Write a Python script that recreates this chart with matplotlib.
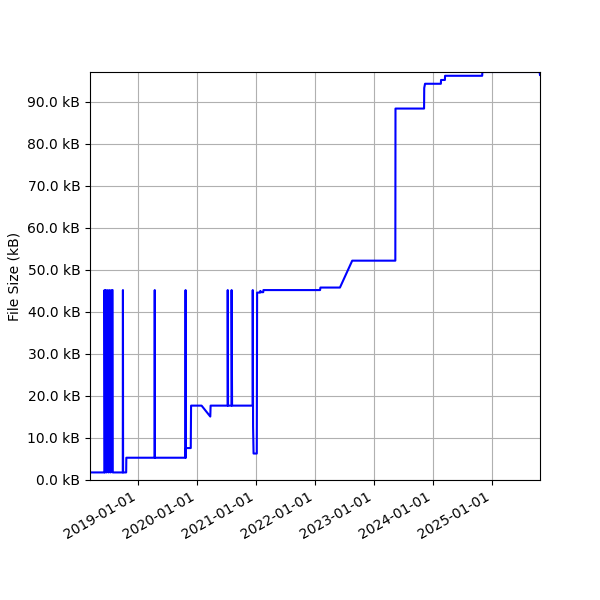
import matplotlib
matplotlib.use("Agg")
import matplotlib.pyplot as plt
import matplotlib.dates as mdates
from matplotlib.ticker import FuncFormatter, MultipleLocator
import pandas as pd

dates = [
    "2018-03-09", "2018-06-06", "2018-06-07", "2018-06-10", "2018-06-16", "2018-06-20",
    "2018-06-28", "2018-07-03", "2018-07-10", "2018-07-15", "2018-07-22", "2018-07-27",
    "2018-07-28", "2018-09-28", "2018-09-29", "2018-09-30", "2018-10-19", "2018-10-20",
    "2019-04-13", "2019-04-14", "2019-04-15", "2019-10-21", "2019-10-22", "2019-10-23",
    "2019-10-24", "2019-11-23", "2019-11-25", "2020-01-29", "2020-03-23", "2020-03-25",
    "2020-07-08", "2020-07-09", "2020-07-11", "2020-08-01", "2020-08-02", "2020-08-05",
    "2020-12-10", "2020-12-11", "2020-12-13", "2020-12-16", "2021-01-05", "2021-01-07",
    "2021-01-26", "2021-01-27", "2021-02-02", "2021-02-14", "2021-02-15", "2022-02-01",
    "2022-02-03", "2022-06-04", "2022-08-19", "2023-05-13", "2023-05-14", "2023-11-07",
    "2023-11-08", "2023-11-13", "2024-02-19", "2024-02-20", "2024-03-15", "2024-03-16",
    "2024-11-01", "2024-11-02", "2025-10-22", "2025-10-25",
]
sizes_bytes = [
    1800, 1800, 45200, 1800, 45200, 1800,
    45200, 1800, 45200, 1800, 45200, 45200,
    1800, 1800, 45200, 1800, 1800, 5300,
    5300, 45200, 5300, 5300, 45200, 5300,
    7600, 7600, 17700, 17700, 15100, 17700,
    17700, 45200, 17700, 17700, 45200, 17700,
    17700, 45200, 12700, 6300, 6300, 44600,
    44600, 45000, 44700, 44700, 45200, 45200,
    45800, 45800, 52200, 52200, 88400, 88400,
    93300, 94300, 94300, 95200, 95200, 96200,
    96200, 97100, 97100, 96400,
]

x = pd.to_datetime(dates)

fig, ax = plt.subplots(figsize=(6, 6), dpi=100)
fig.subplots_adjust(left=0.15, right=0.9, top=0.88, bottom=0.2)
ax.plot(x, sizes_bytes, color="blue")
ax.set_xlim(x[0], x[-1])
ax.set_ylim(0, max(sizes_bytes))
ax.yaxis.set_major_locator(MultipleLocator(10000))
ax.yaxis.set_major_formatter(FuncFormatter(lambda v, p: f"{v/1000:.1f} kB"))
ax.xaxis.set_major_locator(mdates.YearLocator())
ax.xaxis.set_major_formatter(mdates.DateFormatter("%Y-%m-%d"))
ax.set_ylabel("File Size (kB)")
ax.grid(True)
for lbl in ax.get_xticklabels():
    lbl.set_rotation(30)
    lbl.set_ha("right")
fig.savefig("out.png")
